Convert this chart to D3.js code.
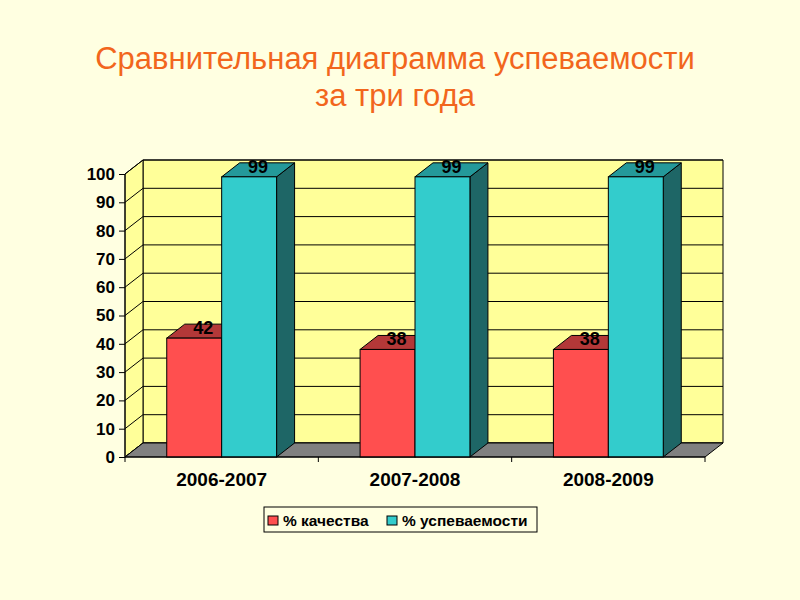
<!DOCTYPE html>
<html>
<head>
<meta charset="utf-8">
<script src="https://cdn.jsdelivr.net/npm/d3@7"></script>
<style>
  body { margin: 0; background: #FFFFE1; }
  svg { display: block; font-family: Arial, "Liberation Sans", sans-serif; }
</style>
</head>
<body>
<div id="chart"></div>
<script>
// chart data
const years = ["2006-2007", "2007-2008", "2008-2009"];
const seriesNames = ["% качества", "% успеваемости"];
const quality = [42, 38, 38];
const progress = [99, 99, 99];
const yTicks = [0, 10, 20, 30, 40, 50, 60, 70, 80, 90, 100];

const W = 800, H = 600;
const dx = 18, dy = -14; // depth offset of the 3d box
const FONT = "Arial, 'Liberation Sans', sans-serif";

const front = { left: 125, right: 705, top: 174, bottom: 457 };

const svg = d3.select("#chart").append("svg")
  .attr("width", W).attr("height", H);

svg.append("rect").attr("width", W).attr("height", H).attr("fill", "#FFFFE1");

// title
svg.append("text")
  .attr("x", 395).attr("y", 69)
  .attr("text-anchor", "middle")
  .attr("font-size", 31).attr("fill", "#F2661C")
  .text("Сравнительная диаграмма успеваемости");
svg.append("text")
  .attr("x", 395).attr("y", 106)
  .attr("text-anchor", "middle")
  .attr("font-size", 31).attr("fill", "#F2661C")
  .text("за три года");

const y = d3.scaleLinear().domain([0, 100]).range([front.bottom, front.top]);
const x = d3.scaleBand().domain(years).range([front.left, front.right]).paddingInner(0).paddingOuter(0);
const xs = d3.scaleBand().domain(seriesNames).range([0, x.bandwidth()]).paddingOuter(0.76).paddingInner(0);

const colors = {
  "% качества": { front: "#FF4F4F", top: "#B33838", side: "#802828" },
  "% успеваемости": { front: "#33CCCC", top: "#24999A", side: "#1E6666" }
};

const line = d3.line();

// back wall
const wall = svg.append("g");
wall.append("path")
  .attr("d", line([
    [front.left + dx, y(100) + dy], [front.right + dx, y(100) + dy],
    [front.right + dx, y(0) + dy], [front.left + dx, y(0) + dy]
  ]) + "Z")
  .attr("fill", "#FFFF99").attr("stroke", "#000").attr("stroke-width", 1);
// side wall
wall.append("path")
  .attr("d", line([
    [front.left, y(100)], [front.left + dx, y(100) + dy],
    [front.left + dx, y(0) + dy], [front.left, y(0)]
  ]) + "Z")
  .attr("fill", "#FFFF99").attr("stroke", "#000").attr("stroke-width", 1);

// gridlines
yTicks.forEach(t => {
  wall.append("path")
    .attr("d", line([[front.left, y(t)], [front.left + dx, y(t) + dy], [front.right + dx, y(t) + dy]]))
    .attr("fill", "none").attr("stroke", "#000").attr("stroke-width", 1);
});

// floor
svg.append("path")
  .attr("d", line([
    [front.left, y(0)], [front.left + dx, y(0) + dy],
    [front.right + dx, y(0) + dy], [front.right, y(0)]
  ]) + "Z")
  .attr("fill", "#808080").attr("stroke", "#000").attr("stroke-width", 1);

// bars
const rows = years.map((yr, i) => ({ year: yr, values: [quality[i], progress[i]] }));
const bars = svg.append("g");
rows.forEach(r => {
  seriesNames.forEach((s, j) => {
    const v = r.values[j];
    const x0 = x(r.year) + xs(s);
    const x1 = x0 + xs.bandwidth();
    const yt = y(v), yb = y(0);
    const c = colors[s];
    const g = bars.append("g");
    g.append("path")
      .attr("d", line([[x1, yb], [x1 + dx, yb + dy], [x1 + dx, yt + dy], [x1, yt]]) + "Z")
      .attr("fill", c.side).attr("stroke", "#000").attr("stroke-width", 1);
    g.append("path")
      .attr("d", line([[x0, yt], [x0 + dx, yt + dy], [x1 + dx, yt + dy], [x1, yt]]) + "Z")
      .attr("fill", c.top).attr("stroke", "#000").attr("stroke-width", 1);
    g.append("rect")
      .attr("x", x0).attr("y", yt).attr("width", x1 - x0).attr("height", yb - yt)
      .attr("fill", c.front).attr("stroke", "#000").attr("stroke-width", 1);
  });
});

// value labels
rows.forEach(r => {
  seriesNames.forEach((s, j) => {
    const v = r.values[j];
    bars.append("text")
      .attr("x", x(r.year) + xs(s) + xs.bandwidth() / 2 + 9)
      .attr("y", y(v) - 4)
      .attr("text-anchor", "middle")
      .attr("font-size", 18).attr("font-weight", "bold").attr("fill", "#000")
      .text(v);
  });
});

// y axis
const yAxis = svg.append("g")
  .attr("transform", `translate(${front.left},0)`)
  .call(d3.axisLeft(y).tickValues(yTicks).tickSize(6).tickPadding(4));
yAxis.selectAll("text").attr("font-size", 17).attr("font-weight", "bold")
  .attr("font-family", FONT).attr("fill", "#000");
yAxis.selectAll("line,path").attr("stroke", "#000");
yAxis.select(".domain").attr("d", `M0,${front.top}V${front.bottom}`);

// x axis
const xAxis = svg.append("g")
  .attr("transform", `translate(0,${front.bottom})`)
  .call(d3.axisBottom(x).tickSize(0).tickPadding(16));
xAxis.selectAll("text").attr("font-size", 19).attr("font-weight", "bold")
  .attr("font-family", FONT).attr("fill", "#000");
xAxis.select(".domain").attr("d", `M${front.left},0H${front.right}`).attr("stroke", "#000");
[front.left, ...years.map(d => x(d) + x.bandwidth())].forEach(px => {
  xAxis.append("line").attr("x1", px).attr("x2", px).attr("y1", 0).attr("y2", 5).attr("stroke", "#000");
});

// legend
const lg = svg.append("g").attr("transform", "translate(264,507)");
lg.append("rect").attr("width", 273).attr("height", 25)
  .attr("fill", "#FFFFE1").attr("stroke", "#000").attr("stroke-width", 1);
const legendX = [4, 123];
seriesNames.forEach((s, i) => {
  lg.append("rect").attr("x", legendX[i]).attr("y", 9).attr("width", 10).attr("height", 9)
    .attr("fill", colors[s].front).attr("stroke", "#000");
  lg.append("text").attr("x", legendX[i] + 15).attr("y", 19)
    .attr("font-size", 15.5).attr("font-weight", "bold").attr("fill", "#000")
    .text(s);
});
</script>
</body>
</html>
